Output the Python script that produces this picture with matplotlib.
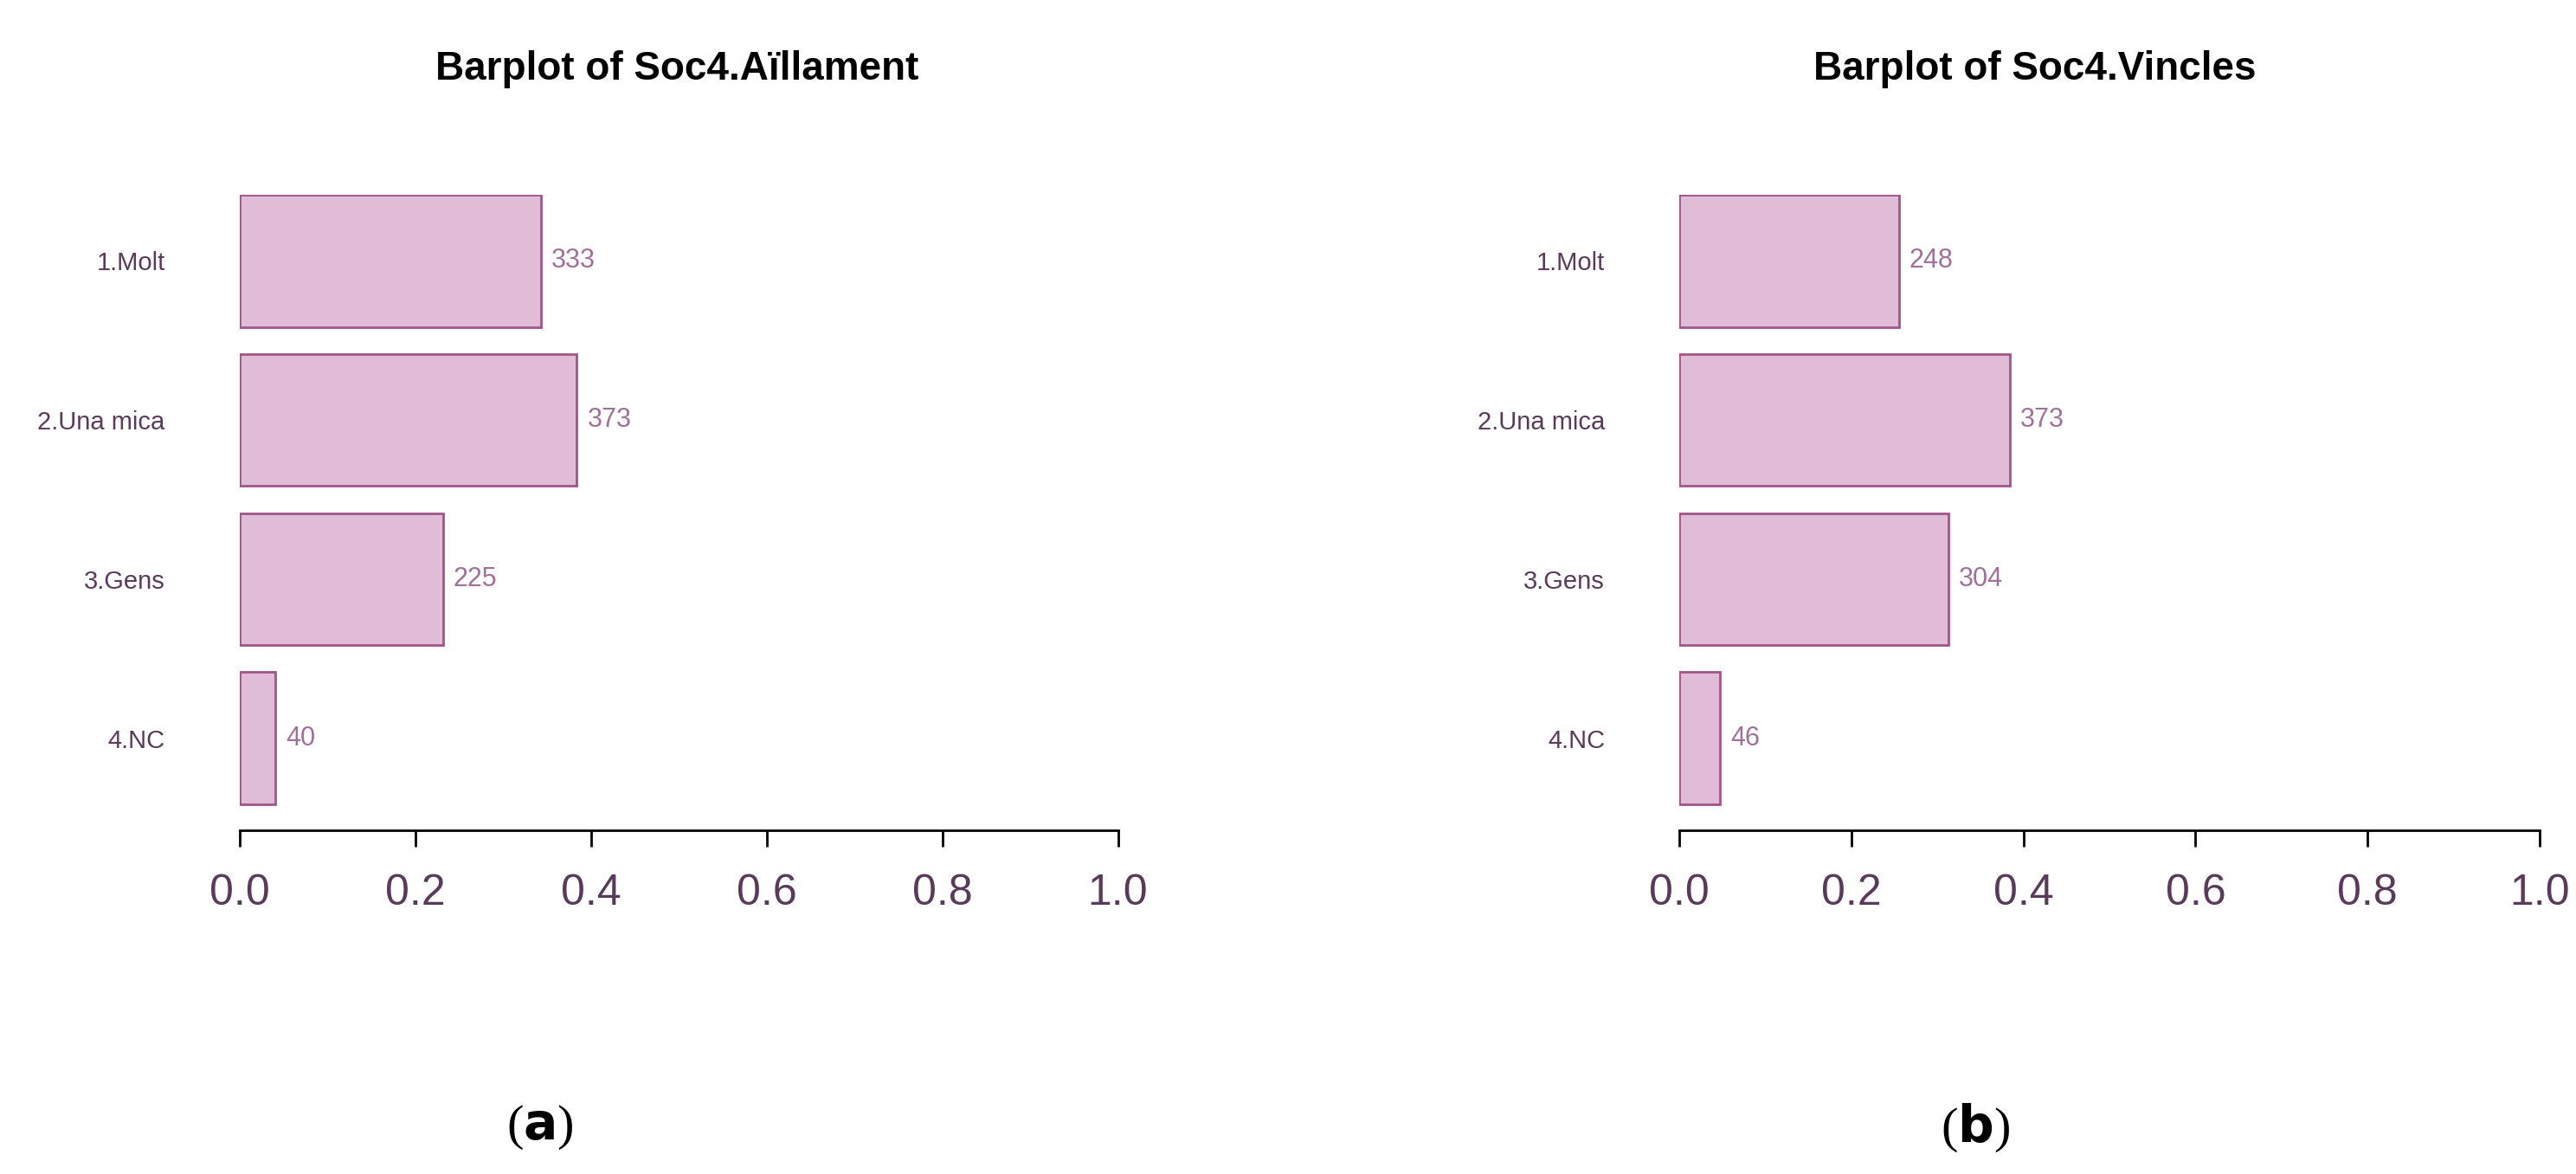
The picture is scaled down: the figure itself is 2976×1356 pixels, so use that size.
import matplotlib
matplotlib.use("Agg")
import matplotlib.pyplot as plt

plt.rcParams['font.family'] = ['Liberation Sans', 'DejaVu Sans']

categories = ["1.Molt", "2.Una mica", "3.Gens", "4.NC"]
counts_a = [333, 373, 225, 40]
counts_b = [248, 373, 304, 46]
titles = ["Barplot of Soc4.Aïllament", "Barplot of Soc4.Vincles"]
panel_letters = ["a", "b"]
ticks = [0.0, 0.2, 0.4, 0.6, 0.8, 1.0]

fig = plt.figure(figsize=(29.76, 13.56), dpi=100)
W, H = 1560, 711
def fx(v): return v / W
def fy(v): return 1 - v / H

txtc = "#5a3a5a"
for i, (counts, x0, x1, tx, px) in enumerate([(counts_a, 145, 677, 410, 327),
                                               (counts_b, 1017, 1538, 1232, 1196)]):
    ax = fig.add_axes([fx(x0), fy(503), fx(x1 - x0), fy(118) - fy(503)])
    tot = sum(counts)
    props = [c / tot for c in counts]
    ypos = list(range(len(categories)))
    ax.barh(ypos, props, height=0.83, color="#e0bcd6", edgecolor="#a0558a", linewidth=2)
    for y, p, c in zip(ypos, props, counts):
        ax.text(p + 0.012, y, str(c), va="center", ha="left", fontsize=22, color="#a0709a")
    ax.set_ylim(3.58, -0.415)
    ax.set_xlim(0, 1)
    ax.set_xticks(ticks)
    ax.set_xticklabels([f"{t:.1f}" for t in ticks], fontsize=36, color=txtc)
    ax.set_yticks(ypos)
    ax.set_yticklabels(categories, fontsize=21, color=txtc)
    ax.tick_params(axis="y", length=0, pad=62)
    ax.tick_params(axis="x", length=14, width=2, pad=22)
    for s in ["top", "right", "left"]:
        ax.spines[s].set_visible(False)
    ax.spines["bottom"].set_linewidth(2)
    ax.spines["bottom"].set_bounds(0, 1)
    fig.text(fx(tx), fy(42), titles[i], ha="center", va="center", fontsize=33, fontweight="bold")
    fig.text(fx(px), fy(683), "(" + r"$\mathbf{" + panel_letters[i] + "}$" + ")",
             ha="center", va="center", fontsize=42, family="Liberation Serif")

fig.savefig("out.png", dpi=100)
